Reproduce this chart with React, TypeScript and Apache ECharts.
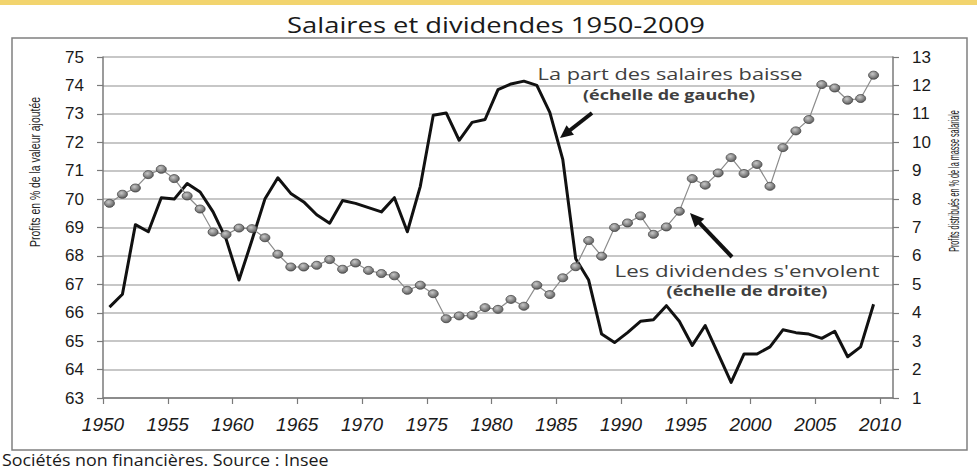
import React, { useEffect, useRef } from "react";
import * as echarts from "echarts";

// Years (categories)
const years = [
  1950, 1951, 1952, 1953, 1954, 1955, 1956, 1957, 1958, 1959,
  1960, 1961, 1962, 1963, 1964, 1965, 1966, 1967, 1968, 1969,
  1970, 1971, 1972, 1973, 1974, 1975, 1976, 1977, 1978, 1979,
  1980, 1981, 1982, 1983, 1984, 1985, 1986, 1987, 1988, 1989,
  1990, 1991, 1992, 1993, 1994, 1995, 1996, 1997, 1998, 1999,
  2000, 2001, 2002, 2003, 2004, 2005, 2006, 2007, 2008, 2009,
];

// Left axis series (black line)
const wageShare = [
  66.2, 66.65, 69.1, 68.85, 70.05, 70.0, 70.55, 70.25, 69.55, 68.6,
  67.15, 68.55, 70.0, 70.75, 70.2, 69.9, 69.45, 69.15, 69.95, 69.85,
  69.7, 69.55, 70.05, 68.85, 70.45, 72.95, 73.03, 72.07, 72.7, 72.8,
  73.85, 74.05, 74.15, 74.0, 73.05, 71.4, 67.9, 67.15, 65.25, 64.95,
  65.3, 65.7, 65.75, 66.25, 65.7, 64.85, 65.55, 64.55, 63.55, 64.55,
  64.55, 64.8, 65.4, 65.3, 65.25, 65.1, 65.35, 64.45, 64.8, 66.3,
];

// Right axis series (dotted gray line)
const dividends = [
  7.85, 8.17, 8.39, 8.86, 9.05, 8.72, 8.11, 7.65, 6.84, 6.75,
  6.98, 6.96, 6.64, 6.06, 5.61, 5.61, 5.67, 5.87, 5.53, 5.75,
  5.49, 5.38, 5.3, 4.79, 4.97, 4.67, 3.79, 3.89, 3.91, 4.18,
  4.12, 4.47, 4.23, 4.97, 4.64, 5.23, 5.62, 6.54, 5.99, 7.0,
  7.16, 7.41, 6.76, 7.02, 7.57, 8.72, 8.49, 8.92, 9.46, 8.9,
  9.22, 8.45, 9.81, 10.4, 10.8, 12.03, 11.91, 11.48, 11.54, 12.36,
];

// Axis ranges / tick labels
const leftAxisRange = [63, 75];
const rightAxisRange = [1, 13];
const xAxisRange = [1950, 2011];
const xTickStep = 5;

// Points are plotted at mid-year
const MID_YEAR = 0.5;

const TITLE = "Salaires et dividendes 1950-2009";
const LEFT_NAME = "Profits en % de la valeur ajoutée";
const RIGHT_NAME = "Profits distribués en % de la masse salariale";
const NOTE1 = "La part des salaires baisse";
const NOTE1B = "(échelle de gauche)";
const NOTE2 = "Les dividendes s'envolent";
const NOTE2B = "(échelle de droite)";
const FOOT = "Sociétés non financières. Source : Insee";

function measure(text: string, font: string): number {
  const ctx = document.createElement("canvas").getContext("2d");
  if (!ctx) return text.length * 7;
  ctx.font = font;
  return ctx.measureText(text).width;
}

function arrow(x1: number, y1: number, x2: number, y2: number, headLen: number, headW: number, lw: number) {
  const dx = x2 - x1;
  const dy = y2 - y1;
  const len = Math.sqrt(dx * dx + dy * dy);
  const ux = dx / len;
  const uy = dy / len;
  const nx = -uy;
  const ny = ux;
  const bx = x2 - ux * headLen;
  const by = y2 - uy * headLen;
  return [
    {
      type: "line",
      shape: { x1, y1, x2: bx + ux * 2, y2: by + uy * 2 },
      style: { stroke: "#111", lineWidth: lw },
      z: 20,
    },
    {
      type: "polygon",
      shape: {
        points: [
          [x2, y2],
          [bx + nx * headW, by + ny * headW],
          [bx - nx * headW, by - ny * headW],
        ],
      },
      style: { fill: "#111" },
      z: 20,
    },
  ];
}

// text fitted to a given width (font height kept, horizontal scale adjusted)
function fittedText(
  text: string,
  font: string,
  x: number,
  y: number,
  width: number,
  fill: string,
  align: string,
  rotation = 0
) {
  const scale = width / measure(text, font);
  return {
    type: "text",
    x,
    y,
    rotation,
    scaleX: scale,
    style: {
      text,
      font,
      fill,
      textAlign: align,
      textVerticalAlign: "middle",
    },
    z: 10,
  };
}

export default function App() {
  const ref = useRef<HTMLDivElement>(null);

  useEffect(() => {
    if (!ref.current) return;
    const chart = echarts.init(ref.current, null, { renderer: "svg" });

    const calibri = "'Open Sans', 'Noto Sans', sans-serif";
    const arial = "'Liberation Sans', Arial, sans-serif";

    const radial = new echarts.graphic.RadialGradient(0.4, 0.35, 0.75, [
      { offset: 0, color: "#c8c8c8" },
      { offset: 1, color: "#4e4e4e" },
    ]);

    const option: any = {
      animation: false,
      backgroundColor: "#ffffff",
      grid: { left: 103, right: 84, top: 57, bottom: 72, containLabel: false },
      xAxis: {
        type: "value",
        min: xAxisRange[0],
        max: xAxisRange[1],
        interval: xTickStep,
        axisLine: { show: true, lineStyle: { color: "#7a7a7a", width: 1.5 } },
        axisTick: { show: true, length: 6, lineStyle: { color: "#7a7a7a", width: 1.2 } },
        axisLabel: {
          margin: 17,
          fontSize: 19,
          fontStyle: "italic",
          fontFamily: arial,
          color: "#1a1a1a",
          showMaxLabel: false,
          formatter: (v: number) => (v % xTickStep === 0 ? String(v) : ""),
        },
        splitLine: { show: false },
      },
      yAxis: [
        {
          type: "value",
          position: "left",
          min: leftAxisRange[0],
          max: leftAxisRange[1],
          interval: 1,
          axisLine: { show: true, lineStyle: { color: "#7a7a7a", width: 1.5 } },
          axisTick: { show: true, length: 6, lineStyle: { color: "#7a7a7a", width: 1.2 } },
          axisLabel: {
            margin: 19,
            fontSize: 17,
            fontFamily: arial,
            color: "#1a1a1a",
          },
          splitLine: { show: true, lineStyle: { color: "#b4b4b4", width: 1.5 } },
        },
        {
          type: "value",
          position: "right",
          min: rightAxisRange[0],
          max: rightAxisRange[1],
          interval: 1,
          axisLine: { show: true, lineStyle: { color: "#7a7a7a", width: 1.5 } },
          axisTick: { show: true, length: 6, lineStyle: { color: "#7a7a7a", width: 1.2 } },
          axisLabel: {
            margin: 19,
            fontSize: 17,
            fontFamily: arial,
            color: "#1a1a1a",
          },
          splitLine: { show: false },
        },
      ],
      series: [
        {
          type: "line",
          yAxisIndex: 0,
          data: years.map((y, i) => [y + MID_YEAR, wageShare[i]]),
          symbol: "none",
          lineStyle: { color: "#111111", width: 3, join: "round" },
          z: 2,
        },
        {
          type: "line",
          yAxisIndex: 1,
          data: years.map((y, i) => [y + MID_YEAR, dividends[i]]),
          symbol: "circle",
          symbolSize: [10, 8],
          lineStyle: { color: "#8c8c8c", width: 1.2 },
          itemStyle: { color: radial, borderColor: "#444", borderWidth: 0.8 },
          z: 3,
        },
      ],
      graphic: [
        {
          type: "rect",
          shape: { x: 0, y: 0, width: 977, height: 5 },
          style: { fill: "#f2d46e" },
          z: 1,
        },
        {
          type: "rect",
          shape: { x: 12, y: 38, width: 955, height: 412 },
          style: { fill: "none", stroke: "#808080", lineWidth: 1.5 },
          z: 1,
        },
        fittedText(TITLE, `normal 21px ${calibri}`, 496, 25, 418, "#1a1a1a", "center"),
        fittedText(LEFT_NAME, `normal 15px ${arial}`, 35, 172, 150, "#222", "center", Math.PI / 2),
        fittedText(RIGHT_NAME, `normal 15px ${arial}`, 953, 181, 142, "#222", "center", Math.PI / 2),
        fittedText(NOTE1, `normal 17px ${calibri}`, 670, 73, 265, "#404040", "center"),
        fittedText(NOTE1B, `bold 14px ${calibri}`, 669, 95, 172, "#404040", "center"),
        fittedText(NOTE2, `normal 17px ${calibri}`, 747, 271, 265, "#404040", "center"),
        fittedText(NOTE2B, `bold 14px ${calibri}`, 747, 291, 161, "#404040", "center"),
        fittedText(FOOT, `normal 16px ${calibri}`, 2, 460, 327, "#1a1a1a", "left"),
        ...arrow(592, 113, 560, 138, 13, 6, 4),
        ...arrow(732, 257, 690, 213, 14, 6.5, 4),
      ],
    };

    chart.setOption(option);
    return () => {
      chart.dispose();
    };
  }, []);

  return (
    <div
      ref={ref}
      style={{ position: "fixed", left: 0, top: 0, width: 977, height: 470, background: "#fff" }}
    />
  );
}
